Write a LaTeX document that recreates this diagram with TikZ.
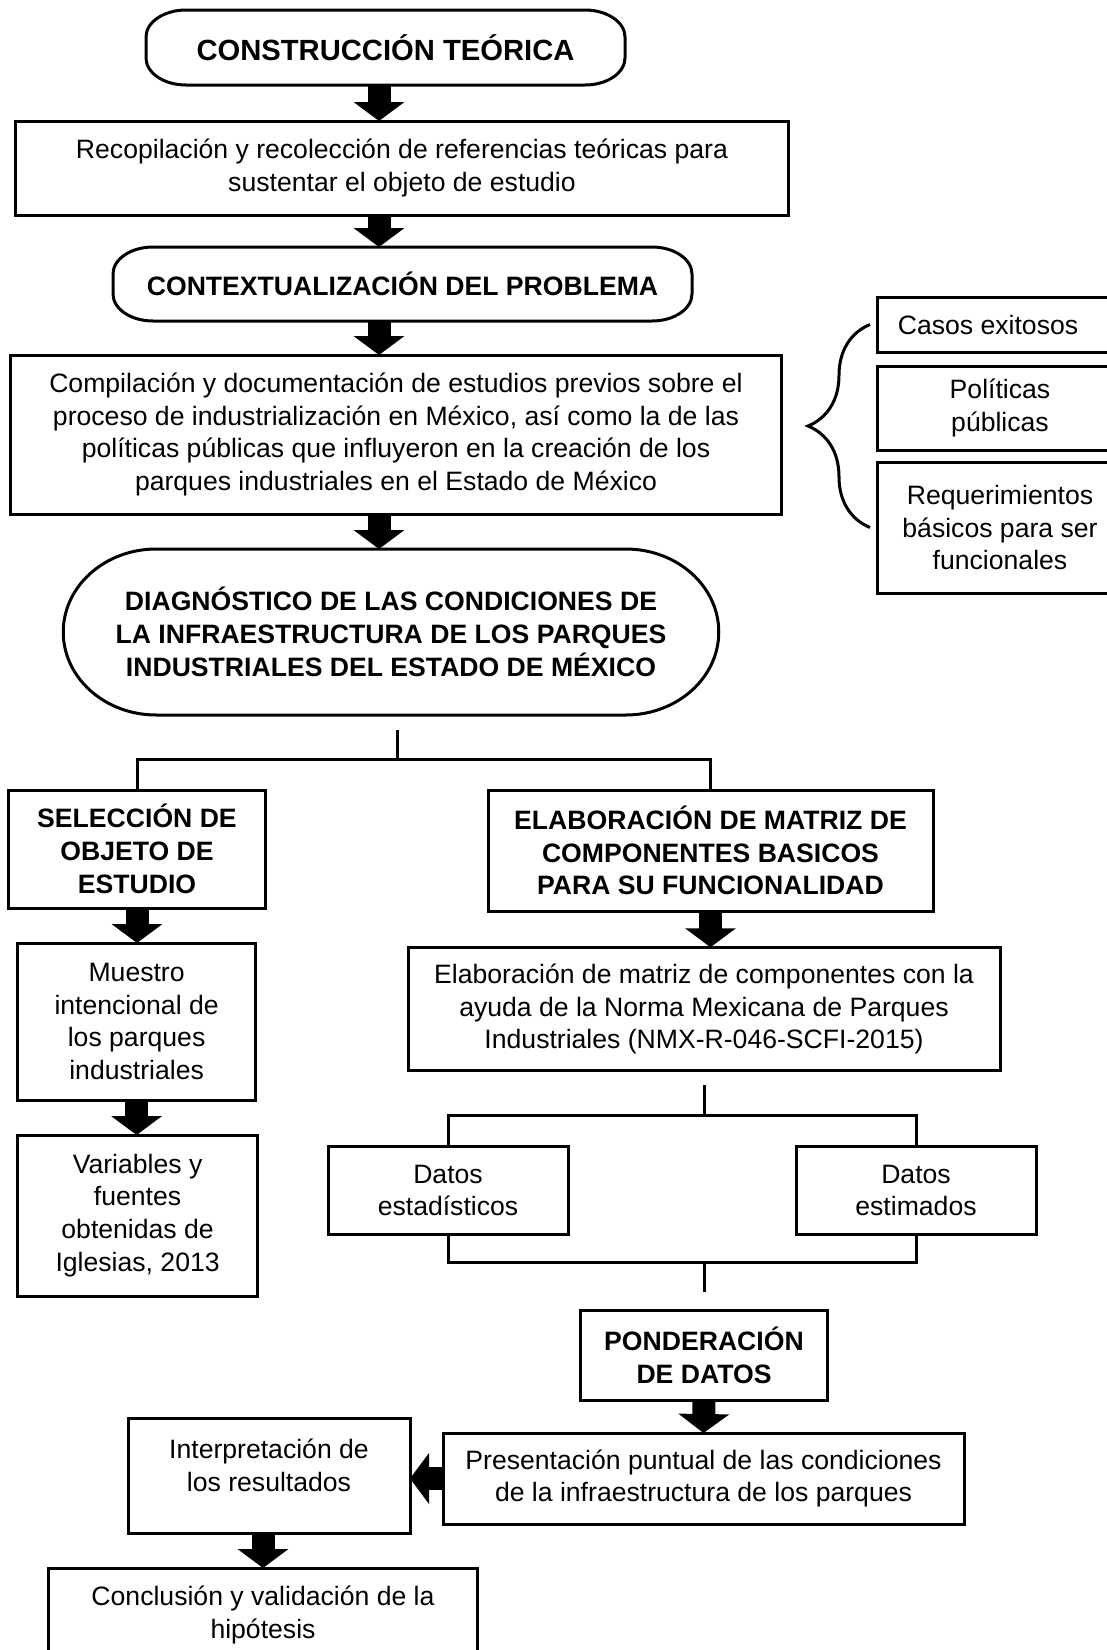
\documentclass[tikz,border=0pt]{standalone}
\usepackage{fontspec}
\setmainfont{Liberation Sans}
\usetikzlibrary{arrows.meta,decorations.pathreplacing}
\tikzset{every node/.style={font=\fontsize{13.3}{16.4}\selectfont, align=center, inner sep=0pt, outer sep=0pt}, % same text in every box
box/.style={draw, line width=1.5pt}, % plain rectangle
bbox/.style={box, font=\fontsize{13.3}{16.4}\selectfont\bfseries}, % rectangle with bold title
term/.style={font=\fontsize{13.3}{16.4}\selectfont\bfseries}, % outline is drawn with \termbox
line/.style={line width=1.5pt}, % thin connectors
bigarrow/.style={line width=11.5pt, -{Triangle[length=9.5pt,width=25pt]}}, % thick block arrows
}
% rounded outline with elliptic ends round a node
\newcommand{\termbox}[3]{%
\draw[line] ([xshift=#2]#1.north west) -- ([xshift=-#2]#1.north east)
 arc[start angle=90, end angle=0, x radius=#2, y radius=#3] -- ([yshift=#3]#1.south east)
 arc[start angle=0, end angle=-90, x radius=#2, y radius=#3] -- ([xshift=#2]#1.south west)
 arc[start angle=270, end angle=180, x radius=#2, y radius=#3] -- ([yshift=-#3]#1.north west)
 arc[start angle=180, end angle=90, x radius=#2, y radius=#3] -- cycle;}
\begin{document}
\begin{tikzpicture}[x=0.5pt, y=-0.5pt]
\path[use as bounding box] (0,0) rectangle (1107,1650);
\clip (0,0) rectangle (1107,1650);

\node[term, font=\fontsize{14.6}{17}\selectfont\bfseries, minimum width=239.5pt, minimum height=37.5pt] (teoria) at (385.5,47.5) {CONSTRUCCIÓN TEÓRICA};
\node[box, minimum width=386.75pt, minimum height=47pt] (recop) at (402,168) {Recopilación y recolección de referencias teóricas para\\sustentar el objeto de estudio};
\node[term, minimum width=289.5pt, minimum height=37pt] (contexto) at (402.5,284) {CONTEXTUALIZACIÓN DEL PROBLEMA};
\node[box, minimum width=385.5pt, minimum height=79.5pt] (compil) at (396,434.5) {Compilación y documentación de estudios previos sobre el\\proceso de industrialización en México, así como la de las\\políticas públicas que influyeron en la creación de los\\parques industriales en el Estado de México};
\node[box, minimum width=123pt, minimum height=27.5pt, label={[xshift=-6pt]center:Casos exitosos}] (casos) at (1000,324.5) {};
\node[box, minimum width=123pt, minimum height=42pt] (politicas) at (1000,408) {Políticas\\públicas};
\node[box, minimum width=123pt, minimum height=65.5pt] (requer) at (1000,527.5) {Requerimientos\\básicos para ser\\funcionales};
\node[term, minimum width=327.75pt, minimum height=83pt] (diag) at (391,632) {DIAGNÓSTICO DE LAS CONDICIONES DE\\LA INFRAESTRUCTURA DE LOS PARQUES\\INDUSTRIALES DEL ESTADO DE MÉXICO};
\node[bbox, minimum width=128.75pt, minimum height=59pt] (seleccion) at (137,849) {SELECCIÓN DE\\OBJETO DE\\ESTUDIO};
\node[bbox, minimum width=222.5pt, minimum height=60.5pt] (matriz) at (710.5,850.5) {ELABORACIÓN DE MATRIZ DE\\COMPONENTES BASICOS\\PARA SU FUNCIONALIDAD};
\node[box, minimum width=119pt, minimum height=78.5pt] (muestro) at (136.6,1021.5) {Muestro\\intencional de\\los parques\\industriales};
\node[box, minimum width=296pt, minimum height=61.75pt] (elabora) at (704,1009) {Elaboración de matriz de componentes con la\\ayuda de la Norma Mexicana de Parques\\Industriales (NMX-R-046-SCFI-2015)};
\node[box, minimum width=120pt, minimum height=80.5pt] (variables) at (137.6,1215.5) {Variables y\\fuentes\\obtenidas de\\Iglesias, 2013};
\node[box, minimum width=120pt, minimum height=44pt] (estadist) at (448,1190.5) {Datos\\estadísticos};
\node[box, minimum width=120pt, minimum height=44pt] (estimados) at (916,1190.5) {Datos\\estimados};
\node[bbox, minimum width=123.25pt, minimum height=45pt] (ponder) at (704,1355) {PONDERACIÓN\\DE DATOS};
\node[box, minimum width=260.5pt, minimum height=45.5pt] (present) at (703.5,1478.5) {Presentación puntual de las condiciones\\de la infraestructura de los parques};
\node[box, minimum width=141pt, minimum height=57.5pt, label={[yshift=5pt]center:{Interpretación de\\los resultados}}] (interp) at (269,1475.5) {};
\node[box, minimum width=214.7pt, minimum height=47pt] (conclus) at (263,1615) {Conclusión y validación de la\\hipótesis};

\termbox{teoria}{20pt}{13.5pt}
\termbox{contexto}{20pt}{13.5pt}
\termbox{diag}{46.5pt}{41.5pt}

% main column
\coordinate (spine) at (379,0);
\draw[bigarrow] (teoria.south -| spine) -- (recop.north -| spine);
\draw[bigarrow] (recop.south -| spine) -- (contexto.north -| spine);
\draw[bigarrow] (contexto.south -| spine) -- (compil.north -| spine);
\draw[bigarrow] (compil.south -| spine) -- (diag.north -| spine);
\draw[line, decorate, decoration={brace, amplitude=31pt}] ([xshift=-3.5pt]requer.west) -- ([xshift=-3.5pt]casos.west);

% two branches
\coordinate (d1) at (397,730);
\coordinate (d2) at (397,759);
\draw[line] (d1) -- (d2);
\draw[line] (seleccion.north) |- (d2) -| (matriz.north);
\draw[bigarrow] (seleccion.south) -- (seleccion.south |- muestro.north);
\draw[bigarrow] (muestro.south) -- (muestro.south |- variables.north);
\draw[bigarrow] (matriz.south) -- (matriz.south |- elabora.north);

% data
\coordinate (e1) at (704.6,1085);
\coordinate (e2) at (704.6,1115);
\draw[line] (e1) -- (e2);
\draw[line] (estadist.north) |- (e2) -| (estimados.north);
\coordinate (f1) at (704,1262);
\coordinate (f2) at (704,1292);
\draw[line] (estadist.south) |- (f1) -| (estimados.south);
\draw[line] (f1) -- (f2);
\draw[bigarrow] (ponder.south) -- (present.north);
\draw[bigarrow] (present.west) -- (present.west -| interp.east);
\draw[bigarrow] (interp.south -| conclus) -- (conclus.north);
\end{tikzpicture}
\end{document}
